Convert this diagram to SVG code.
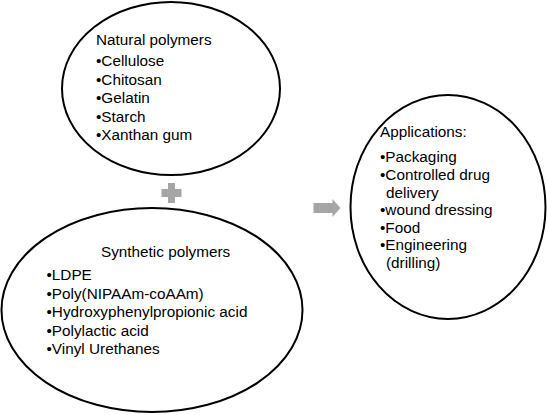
<svg xmlns="http://www.w3.org/2000/svg" width="547" height="415" viewBox="0 0 547 415">
<style>
.node ellipse{fill:#fff;stroke:#000;stroke-width:2}
text{font-family:"Liberation Sans",Arial,sans-serif;font-size:15.3px;fill:#000}
.conn{fill:#a6a6a6}
</style>
<rect width="547" height="415" fill="#fff"/>
<g id="natural" class="node">
<ellipse cx="171" cy="88.5" rx="109" ry="86.5"/>
<text x="96" y="45">Natural polymers</text>
<text x="96" y="66">•Cellulose</text>
<text x="96" y="84.5">•Chitosan</text>
<text x="96" y="103">•Gelatin</text>
<text x="96" y="121.5">•Starch</text>
<text x="96" y="140">•Xanthan gum</text>
</g>
<g id="synthetic" class="node">
<ellipse cx="152" cy="310" rx="150.5" ry="102"/>
<text x="101" y="257">Synthetic polymers</text>
<text x="46.5" y="280">•LDPE</text>
<text x="46.5" y="298.5">•Poly(NIPAAm-coAAm)</text>
<text x="46.5" y="317">•Hydroxyphenylpropionic acid</text>
<text x="46.5" y="335.5">•Polylactic acid</text>
<text x="46.5" y="354">•Vinyl Urethanes</text>
</g>
<g id="applications" class="node">
<ellipse cx="448" cy="207" rx="97.5" ry="112"/>
<text x="380" y="137">Applications:</text>
<text x="380" y="162">•Packaging</text>
<text x="380" y="180">•Controlled drug</text>
<text x="386" y="197.5">delivery</text>
<text x="380" y="215">•wound dressing</text>
<text x="380" y="232.5">•Food</text>
<text x="380" y="250">•Engineering</text>
<text x="386" y="268">(drilling)</text>
</g>
<g id="connectors">
<path class="conn" d="M168,183h7v6h6.5v8h-6.5v6h-7v-6h-6.5v-8h6.5z"/>
<path class="conn" d="M313.5,203H332.5V199L340.5,208L332.5,217V213H313.5Z"/>
</g>
</svg>
